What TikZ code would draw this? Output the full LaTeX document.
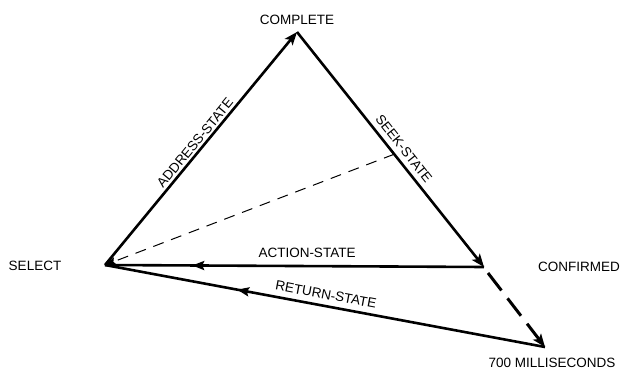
\documentclass[tikz,border=0pt]{standalone}
\usepackage{fontspec}
\setmainfont{Liberation Sans}
\usetikzlibrary{arrows.meta,decorations.markings,calc}
\begin{document}
\begin{tikzpicture}[x=1pt,y=-1pt,
  lbl/.style={font=\fontsize{13.5}{16}\selectfont, inner sep=0pt},
  edge/.style={line width=2.6pt},
  tip/.style={-{Stealth[length=13pt,width=10pt,inset=3pt]}},
  midarrow/.style={postaction={decorate},decoration={markings,mark=at position #1 with {\arrow{Stealth[length=12pt,width=9pt,inset=2pt]}}}}
]
\useasboundingbox[fill=white] (0,0) rectangle (625,372);

% vertices
\coordinate (sel) at (105,265);
\coordinate (comp) at (297,32);
\coordinate (conf) at (484,267);
\coordinate (ms) at (545,347);
\coordinate (seekpt) at ($(comp)!0.52!(conf)$);
\coordinate (dstart) at (488,273);

% labels
\node[lbl] (tcomp) at (297,20) {COMPLETE};
\node[lbl] (tsel) at (35,266) {SELECT};
\node[lbl] (tconf) at (579,267) {CONFIRMED};
\node[lbl] (tms) at (552,363) {700 MILLISECONDS};
\node[lbl, rotate=50.5] (taddr) at (195,143) {ADDRESS-STATE};
\node[lbl, rotate=-51.6] (tseek) at (404,149) {SEEK-STATE};
\node[lbl] (tact) at (307,253) {ACTION-STATE};
\node[lbl, rotate=-10.56] (tret) at (326,294.5) {RETURN-STATE};

% connectors
\draw[edge, tip] (sel) -- (comp);
\draw[edge, tip] (comp) -- (conf);
\draw[edge, midarrow=0.77] (conf) -- (sel);
\draw[edge, midarrow=0.70] (ms) -- (sel);
\draw[line width=1pt, dash pattern=on 11pt off 8pt, -{Stealth[length=11pt,width=8pt,inset=2pt]}] (seekpt) -- (sel);
\draw[line width=3pt, dash pattern=on 22pt off 10pt, tip] (dstart) -- (ms);
\end{tikzpicture}
\end{document}
